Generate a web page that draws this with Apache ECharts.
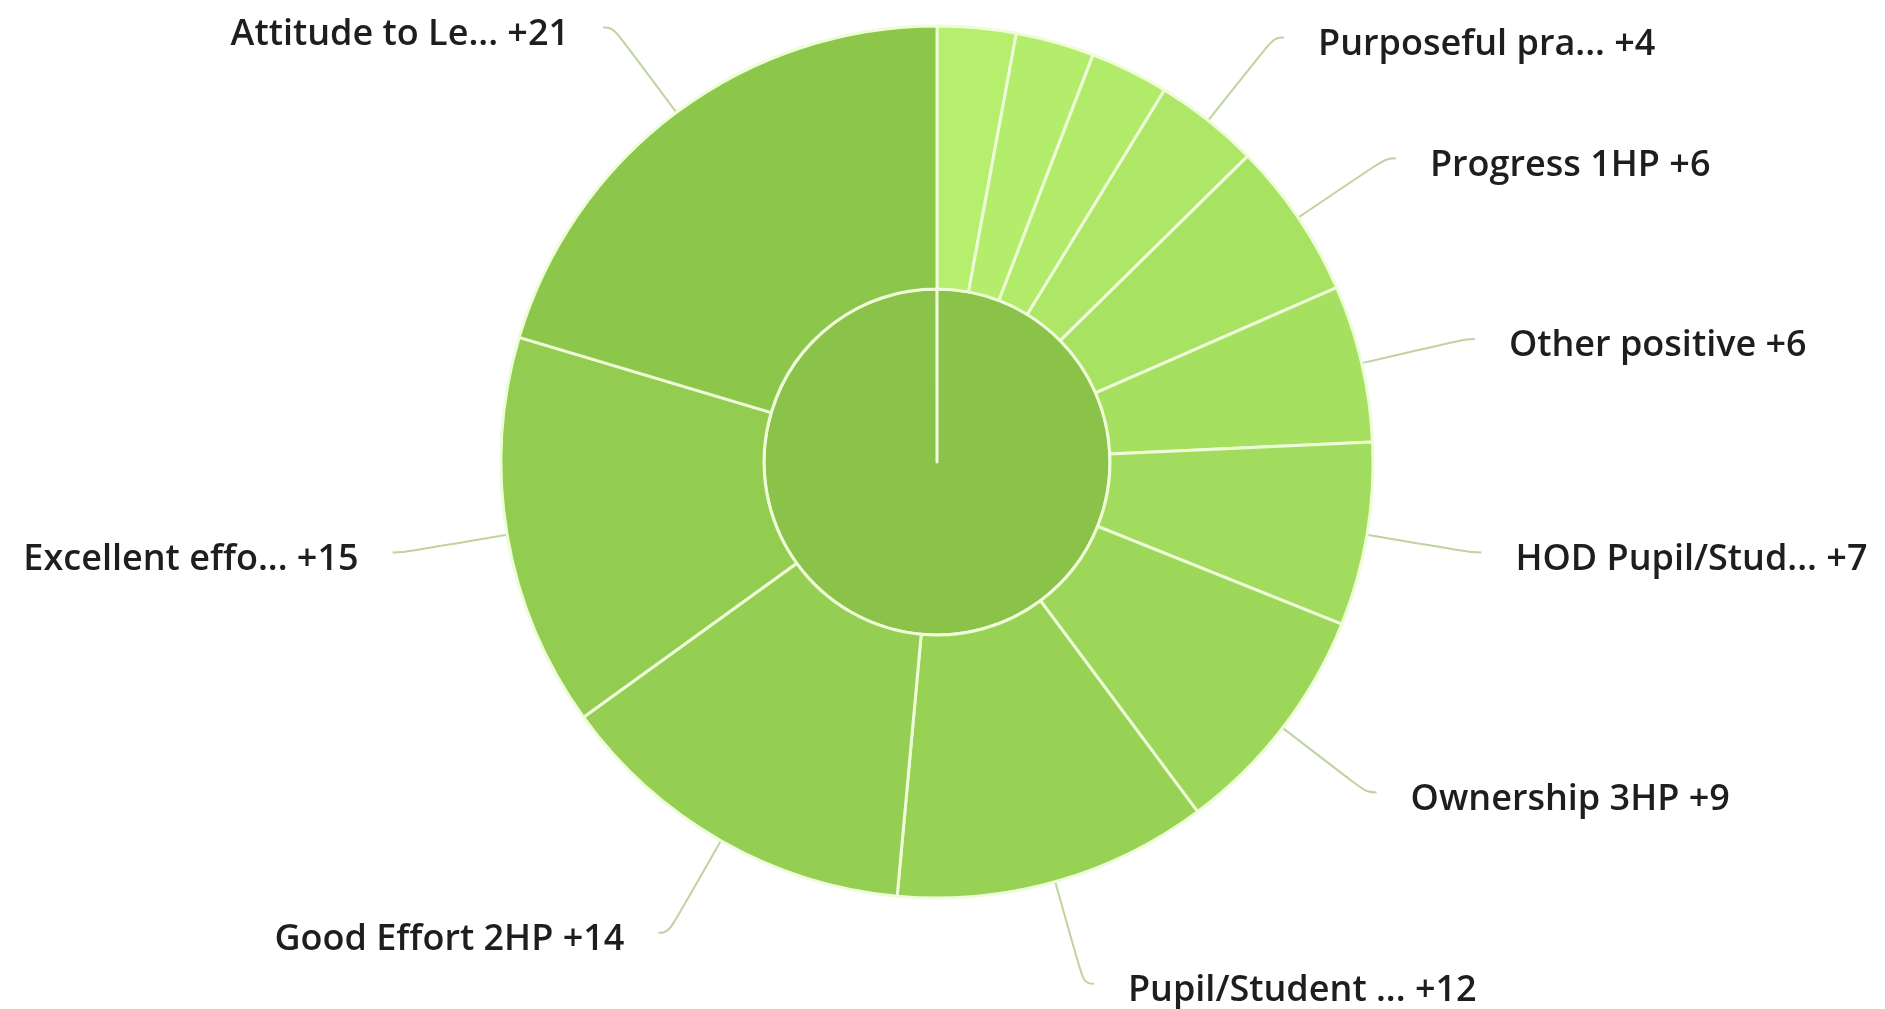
<!DOCTYPE html>
<html>
<head>
<meta charset="utf-8">
<script src="https://cdn.jsdelivr.net/npm/echarts@6/dist/echarts.min.js"></script>
<style>
html,body{margin:0;padding:0;background:#fff;}
#chart{width:1885px;height:1009px;}
</style>
</head>
<body>
<div id="chart"></div>
<script>
// Categories (clockwise from 12 o'clock) and values
var categories = ["Item A", "Item B", "Item C", "Purposeful pra...", "Progress 1HP", "Other positive",
  "HOD Pupil/Stud...", "Ownership 3HP", "Pupil/Student ...", "Good Effort 2HP", "Excellent effo...", "Attitude to Le..."];
var values = [3, 3, 3, 4, 6, 6, 7, 9, 12, 14, 15, 21];
var innerName = "Positive";

// Styles
var palette = ["#b6ef6e", "#b4ed6c", "#b2eb6a", "#aee767", "#a8e263", "#a6e061",
  "#a2dc5e", "#9dd75a", "#98d255", "#94ce52", "#92cc50", "#8cc74b"];
var innerColor = "#8bc34a";
var borderColor = "#eefcd8";

var total = values.reduce(function (a, b) { return a + b; }, 0);
var outerData = categories.map(function (c, i) {
  return { name: c, value: values[i], itemStyle: { color: palette[i] } };
});

var chart = echarts.init(document.getElementById('chart'));
chart.setOption({
  animation: false,
  backgroundColor: '#ffffff',
  series: [
    {
      type: 'pie',
      center: [937, 462],
      radius: [0, 173],
      startAngle: 90,
      endAngle: 90 - 359.97,
      silent: true,
      label: { show: false },
      labelLine: { show: false },
      itemStyle: { color: innerColor, borderColor: borderColor, borderWidth: 3 },
      data: [{ name: innerName, value: total }]
    },
    {
      type: 'pie',
      center: [937, 462],
      radius: [173, 436],
      startAngle: 90,
      clockwise: true,
      minShowLabelAngle: 12,
      avoidLabelOverlap: false,
      itemStyle: { borderColor: borderColor, borderWidth: 3 },
      label: {
        show: true,
        formatter: '{t|{b} +{c}}',
        distanceToLabelLine: 34,
        rich: {
          t: {
            fontFamily: 'Open Sans',
            fontWeight: 600,
            fontSize: 36,
            color: '#1e1e1e',
            padding: [14, 0, 0, 0]
          }
        }
      },
      labelLine: {
        show: true,
        length: 106,
        length2: 10,
        smooth: 0.5,
        lineStyle: { color: '#bfd3a0', width: 2 }
      },
      data: outerData
    }
  ]
});
</script>
</body>
</html>
